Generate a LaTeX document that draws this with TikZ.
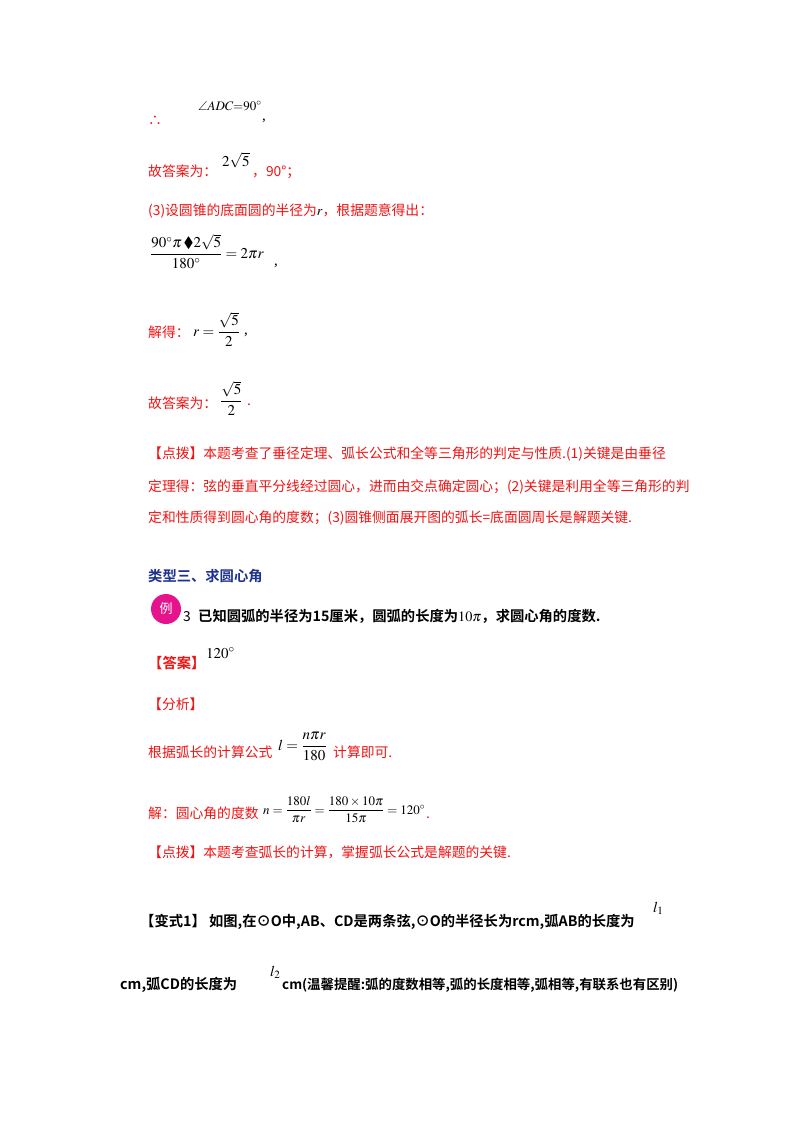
\documentclass[tikz,border=0pt]{standalone}
\usepackage{amsmath,amssymb}
\usepackage{mathptmx}
\usepackage{fontspec}
\setmainfont{Liberation Serif}
\newfontfamily\cjk{Noto Sans CJK SC}
\newfontfamily\cjkb{Noto Sans CJK SC}[BoldFont={* Bold}]
\definecolor{rd}{RGB}{240,20,20}
\definecolor{bl}{RGB}{30,50,140}
\definecolor{mg}{RGB}{230,20,140}
\begin{document}
\begin{tikzpicture}[x=1pt,y=-1pt,
  t/.style={anchor=base west,inner sep=0pt,font=\fontsize{13.8}{15}\selectfont\cjk},
  r/.style={t,text=rd},
  m/.style={anchor=base west,inner sep=0pt,font=\fontsize{15}{17}\selectfont},
  b/.style={t,font=\fontsize{14.3}{15}\selectfont\bfseries\cjkb}]
\useasboundingbox[fill=white] (0,0) rectangle (800,1132);
\node[r] (a1) at (148,125) {∴};
\node[m,font=\fontsize{13}{15}\selectfont] (a2) at (198,110) {$\angle ADC{=}90^\circ$};
\node[m] (a3) at (262,120) {,};
\node[r] (b1) at (148,176) {故答案为：};
\node[m] (b2) at (222,166) {$2\sqrt{5}$};
\node[r] (b3) at (252,176) {，90°；};
\node[r] (c1) at (148,215) {(3)设圆锥的底面圆的半径为\textcolor{black}{$r$}，根据题意得出：};
\node[m] (d1) at (150,258) {$\dfrac{90^\circ\pi\,\blacklozenge 2\sqrt{5}}{180^\circ}=2\pi r$};
\node[m] (d2) at (274,265) {,};
\node[r] (e1) at (148,337) {解得：};
\node[m] (e2) at (193,336) {$r=\dfrac{\sqrt{5}}{2}$};
\node[m] (e3) at (244,334) {,};
\node[r] (f1) at (148,408) {故答案为：};
\node[m] (f2) at (220,405) {$\dfrac{\sqrt{5}}{2}$};
\node[r] (f3) at (247,405) {.};
\node[r] (g1) at (148,458) {【点拨】本题考查了垂径定理、弧长公式和全等三角形的判定与性质.(1)关键是由垂径};
\node[r] (g2) at (148,491) {定理得：弦的垂直平分线经过圆心，进而由交点确定圆心；(2)关键是利用全等三角形的判};
\node[r] (g3) at (148,522) {定和性质得到圆心角的度数；(3)圆锥侧面展开图的弧长=底面圆周长是解题关键.};
\node[b,text=bl] (h1) at (148,581) {类型三、求圆心角};
\node[circle,fill=mg,minimum size=30pt,inner sep=0pt,text=white,font=\fontsize{13}{15}\selectfont\cjk] (ex) at (166,609) {例};
\node[t] (i0) at (183,621) {3};
\node[b] (i1) at (198,621) {已知圆弧的半径为15厘米，圆弧的长度为\textmd{$10\pi$}，求圆心角的度数.};
\node[b,text=rd] (j1) at (148,668) {【答案】};
\node[m] (j2) at (206,658) {$120^\circ$};
\node[r] (k1) at (148,709) {【分析】};
\node[r] (l1) at (148,757) {根据弧长的计算公式};
\node[m] (l2) at (278,750) {$l=\dfrac{n\pi r}{180}$};
\node[r] (l3) at (333,757) {计算即可.};
\node[r] (n1) at (148,818) {解：圆心角的度数};
\node[m,font=\fontsize{13}{15}\selectfont] (n2) at (263,814) {$n=\dfrac{180l}{\pi r}=\dfrac{180\times10\pi}{15\pi}=120^\circ$};
\node[r] (n3) at (426,818) {.};
\node[r] (o1) at (148,857) {【点拨】本题考查弧长的计算，掌握弧长公式是解题的关键.};
\node[b] (p1) at (140,926) {【变式1】 如图,在⊙O中,AB、CD是两条弦,⊙O的半径长为rcm,弧AB的长度为};
\node[m] (p2) at (653,912) {$l_1$};
\node[b] (q1) at (120,989) {cm,弧CD的长度为};
\node[m] (q2) at (270,976) {$l_2$};
\node[b,font=\fontsize{13.4}{15}\selectfont\bfseries\cjkb] (q3) at (282,989) {cm(温馨提醒:弧的度数相等,弧的长度相等,弧相等,有联系也有区别)};
\end{tikzpicture}
\end{document}
